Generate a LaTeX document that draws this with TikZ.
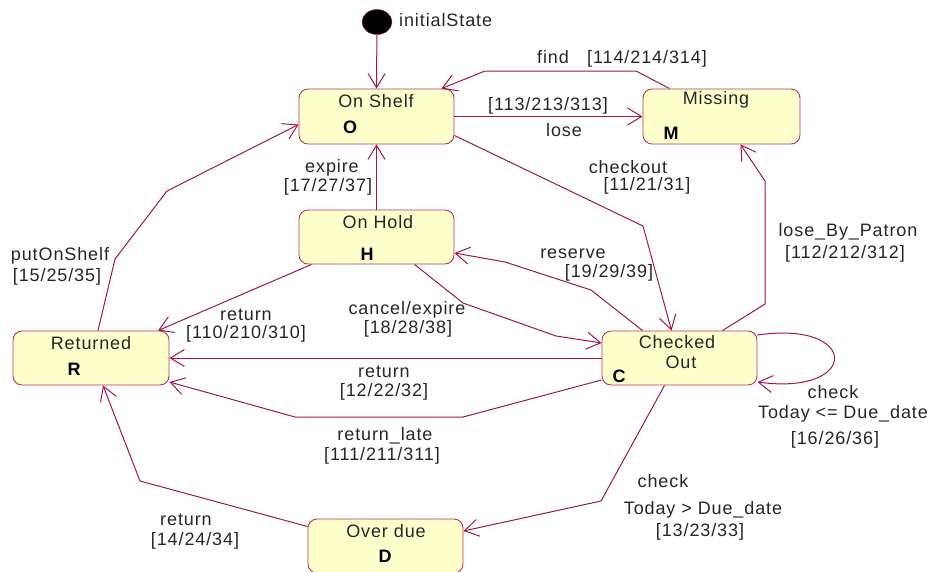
\documentclass[tikz,border=0pt]{standalone}
\usepackage{fontspec}
\setmainfont[LetterSpace=5]{Liberation Sans}
\usetikzlibrary{arrows.meta,calc,shapes.geometric}
\definecolor{edge}{HTML}{A0174B}
\definecolor{boxline}{HTML}{B8365F}
\definecolor{boxfill}{HTML}{FFFFCC}
\begin{document}
\begin{tikzpicture}[x=1pt,y=-1pt,
  state/.style={draw=boxline,fill=boxfill,rounded corners=9pt,line width=0.9pt,inner sep=0pt},
  tr/.style={draw=edge,line width=1pt,-{Straight Barb[length=14pt,width=17pt,line width=1pt]}},
  lbl/.style={font=\fontsize{18}{21}\selectfont,inner sep=0pt,text=black!85},
  ltr/.style={font=\fontsize{18}{21}\selectfont\bfseries,inner sep=0pt}]
\useasboundingbox (0,0) rectangle (930,571);
% states
\node[state,minimum width=155pt,minimum height=55pt] (O) at (376.5,116.5) {};
\node[state,minimum width=157pt,minimum height=55pt] (M) at (721.5,116.5) {};
\node[state,minimum width=155pt,minimum height=54pt] (H) at (376.5,237) {};
\node[state,minimum width=156pt,minimum height=54pt] (R) at (91,358) {};
\node[state,minimum width=155pt,minimum height=54pt] (C) at (679.5,358) {};
\node[state,minimum width=155pt,minimum height=54pt] (D) at (385.5,546) {};
\node[fill=black,draw=edge,ellipse,minimum width=30pt,minimum height=25pt,inner sep=0pt] (I) at (377,22) {};
% state texts
\node[lbl] (tO) at (376,101) {On Shelf};
\node[ltr] (lO) at (350,127) {O};
\node[lbl] (tM) at (716,100) {Missing};
\node[ltr] (lM) at (671,133) {M};
\node[lbl] (tH) at (378,222) {On Hold};
\node[ltr] (lH) at (367,254) {H};
\node[lbl] (tR) at (91,343) {Returned};
\node[ltr] (lR) at (74,369) {R};
\node[lbl] (tC1) at (677,342) {Checked};
\node[lbl] (tC2) at (681,362) {Out};
\node[ltr] (lC) at (619,376) {C};
\node[lbl] (tD) at (386,531) {Over due};
\node[ltr] (lD) at (385,556) {D};
\node[lbl,anchor=west] (tI) at (399,20) {initialState};
% transitions
\draw[tr] (I) -- (O.north);
\draw[tr] ([xshift=-52pt]M.north) -- (636,71) -- (485,71) -- ([xshift=65pt]O.north);
\draw[tr] (O.east) -- (M.west);
\draw[tr] ([yshift=-19pt]O.east) -- (643,226) -- ([xshift=-8pt]C.north);
\draw[tr] (H.north) -- (O.south);
\draw[tr] ([xshift=7pt]R.north) -- (115,259) -- (167,191) -- ([yshift=-8pt]O.west);
\draw[tr] ([xshift=-65pt]H.south) -- ([xshift=67pt]R.north);
\draw[tr] ([xshift=38pt]H.south) -- (463,303) -- (556,336) -- ([yshift=15pt]C.west);
\draw[tr] ([xshift=-37pt]C.north) -- (591,290) -- (505,262) -- ([yshift=-16pt]H.east);
\draw[tr] ([xshift=43pt]C.north) -- (765,304) -- (765,181) -- ([xshift=19pt]M.south);
\draw[tr] (C.west) -- (R.east);
\draw[tr] ([yshift=-22pt]C.west) -- (463,417) -- (295,417) -- ([yshift=-24pt]R.east);
\draw[tr] ([yshift=19.5pt]D.west) -- (140,481) -- ([xshift=12pt]R.south);
\draw[tr] ([xshift=-15pt]C.south) -- (601,501) -- ([yshift=15pt]D.east);
\draw[tr] ([yshift=23pt]C.east) .. controls (860,320) and (860,396) .. ([yshift=-24pt]C.east);
% labels
\node[lbl] (a1) at (553,57) {find};
\node[lbl] (a2) at (647,59) {[114/214/314]};
\node[lbl] (b1) at (548,106) {[113/213/313]};
\node[lbl] (b2) at (564,130) {lose};
\node[lbl] (c1) at (628,167) {checkout};
\node[lbl] (c2) at (647,186) {[11/21/31]};
\node[lbl] (d1) at (332,168) {expire};
\node[lbl] (d2) at (328,187) {[17/27/37]};
\node[lbl] (e1) at (60,256) {putOnShelf};
\node[lbl] (e2) at (57,277) {[15/25/35]};
\node[lbl] (f1) at (246,315) {return};
\node[lbl] (f2) at (246,334) {[110/210/310]};
\node[lbl] (g1) at (407,310) {cancel/expire};
\node[lbl] (g2) at (408,329) {[18/28/38]};
\node[lbl] (h1) at (573,254) {reserve};
\node[lbl] (h2) at (609,273) {[19/29/39]};
\node[lbl] (i1) at (848,232) {lose\_By\_Patron};
\node[lbl] (i2) at (845,254) {[112/212/312]};
\node[lbl] (j1) at (384,372) {return};
\node[lbl] (j2) at (384,392) {[12/22/32]};
\node[lbl] (k1) at (385,436) {return\_late};
\node[lbl] (k2) at (382,456) {[111/211/311]};
\node[lbl] (l1) at (186,520) {return};
\node[lbl] (l2) at (195,541) {[14/24/34]};
\node[lbl] (m1) at (663,481) {check};
\node[lbl] (m2) at (703,510) {Today > Due\_date};
\node[lbl] (m3) at (700,532) {[13/23/33]};
\node[lbl] (n1) at (833,392) {check};
\node[lbl] (n2) at (843,414) {Today <= Due\_date};
\node[lbl] (n3) at (835,440) {[16/26/36]};
\end{tikzpicture}
\end{document}
